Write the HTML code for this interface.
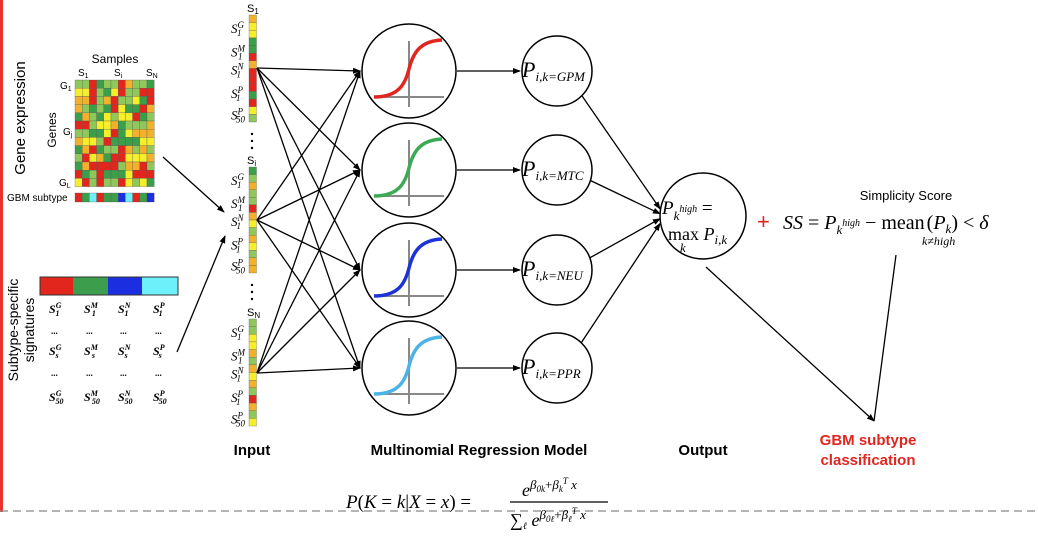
<!DOCTYPE html>
<html><head><meta charset="utf-8"><style>
html,body{margin:0;padding:0;background:#fff;width:1038px;height:540px;overflow:hidden}
svg{display:block}
.m{font-family:"Liberation Serif",serif;font-style:italic}
.s{font-family:"Liberation Sans",sans-serif}
</style></head><body>
<svg id="sv" width="1038" height="540" viewBox="0 0 1038 540" xmlns="http://www.w3.org/2000/svg">
<defs><marker id="ar" markerWidth="8" markerHeight="8" refX="7" refY="4" orient="auto" markerUnits="userSpaceOnUse"><path d="M0,1 L8,4 L0,7 z" fill="#000"/></marker></defs>
<line x1="1.5" y1="0" x2="1.5" y2="512" stroke="#e8322a" stroke-width="3"/>
<line x1="0" y1="511" x2="1038" y2="511" stroke="#888" stroke-width="1.3" stroke-dasharray="8,5"/>
<g id="hm"></g>
<g id="inp"></g>
<text class="s" font-size="15" transform="translate(25,118) rotate(-90)" text-anchor="middle">Gene expression</text>
<text class="s" font-size="12" transform="translate(56,130) rotate(-90)" text-anchor="middle">Genes</text>
<text class="s" font-size="12" x="115" y="63" text-anchor="middle">Samples</text>
<text class="s" font-size="10" x="78" y="76">S<tspan font-size="7" dy="2">1</tspan></text>
<text class="s" font-size="10" x="114" y="76">S<tspan font-size="7" dy="2">i</tspan></text>
<text class="s" font-size="10" x="146" y="76">S<tspan font-size="7" dy="2">N</tspan></text>
<text class="s" font-size="10" x="60" y="89">G<tspan font-size="7" dy="2">1</tspan></text>
<text class="s" font-size="10" x="63" y="135">G<tspan font-size="7" dy="2">j</tspan></text>
<text class="s" font-size="10" x="59" y="186">G<tspan font-size="7" dy="2">L</tspan></text>
<text class="s" font-size="10" x="7" y="201">GBM subtype</text>
<rect x="40" y="277" width="33" height="18" fill="#e2261e"/><rect x="73" y="277" width="35" height="18" fill="#3c9e4c"/><rect x="108" y="277" width="34" height="18" fill="#1b2ee0"/><rect x="142" y="277" width="36" height="18" fill="#6ef0fa"/>
<rect x="40" y="277" width="138" height="18" fill="none" stroke="#333" stroke-width="1"/>
<text class="s" font-size="14" transform="translate(18,330) rotate(-90)" text-anchor="middle">Subtype-specific</text>
<text class="s" font-size="14" transform="translate(34,330) rotate(-90)" text-anchor="middle">signatures</text>
<g id="sig" class="m" font-weight="bold" font-size="12"></g>
<line x1="163" y1="157" x2="224" y2="212" stroke="#000" stroke-width="1.3" marker-end="url(#ar)"/>
<line x1="177" y1="352" x2="225" y2="236" stroke="#000" stroke-width="1.3" marker-end="url(#ar)"/>
<g id="net"></g>
<circle cx="703" cy="216" r="43" fill="#fff" stroke="#000" stroke-width="1.5"/>
<text class="m" font-size="19" x="662" y="214">P<tspan font-size="13" dy="6">k</tspan><tspan font-size="10" dy="-8">high</tspan><tspan font-size="19" dy="2" font-style="normal"> =</tspan></text>
<text class="m" font-size="18" x="668" y="240"><tspan font-style="normal">max</tspan> P<tspan font-size="13" dy="4">i,k</tspan></text>
<text class="m" font-size="13" x="680" y="252">k</text>
<text class="s" font-size="22" x="757" y="229" fill="#e0261f">+</text>
<text class="s" font-size="13" x="906" y="200" text-anchor="middle">Simplicity Score</text>
<text class="m" font-size="20" x="783" y="229">SS <tspan font-style="normal">=</tspan> P<tspan font-size="13" dy="5">k</tspan><tspan font-size="10" dy="-8">high</tspan><tspan font-size="20" dy="3" font-style="normal"> − mean</tspan><tspan dx="2" font-style="normal">(</tspan>P<tspan font-size="13" dy="4">k</tspan><tspan dy="-4" font-style="normal">) &lt; </tspan>δ</text>
<text class="m" font-size="12" x="922" y="245">k≠high</text>
<line x1="706" y1="267" x2="874" y2="421" stroke="#000" stroke-width="1.3" marker-end="url(#ar)"/>
<line x1="896" y1="255" x2="874" y2="421" stroke="#000" stroke-width="1.3"/>
<text class="s" font-size="15" font-weight="bold" fill="#e0261f" x="868" y="445" text-anchor="middle">GBM subtype</text>
<text class="s" font-size="15" font-weight="bold" fill="#e0261f" x="868" y="465" text-anchor="middle">classification</text>
<text class="s" font-size="15" font-weight="bold" x="252" y="455" text-anchor="middle">Input</text>
<text class="s" font-size="15" font-weight="bold" x="479" y="455" text-anchor="middle">Multinomial Regression Model</text>
<text class="s" font-size="15" font-weight="bold" x="703" y="455" text-anchor="middle">Output</text>
<text class="m" font-size="19" x="346" y="508">P<tspan font-style="normal">(</tspan>K <tspan font-style="normal">=</tspan> k<tspan font-style="normal">|</tspan>X <tspan font-style="normal">=</tspan> x<tspan font-style="normal">) =</tspan></text>
<line x1="510" y1="502" x2="608" y2="502" stroke="#000" stroke-width="1.2"/>
<text class="m" font-size="18" x="522" y="496">e<tspan font-size="13" dy="-7">β<tspan font-size="9" dy="3">0k</tspan><tspan dy="-3" font-style="normal">+</tspan>β<tspan font-size="9" dy="3">k</tspan><tspan font-size="9" dy="-8">T</tspan><tspan dy="5"> x</tspan></tspan></text>
<text class="m" font-size="18" x="510" y="526"><tspan font-style="normal">∑</tspan><tspan font-size="10" dy="3">ℓ</tspan><tspan dy="-3"> e</tspan><tspan font-size="13" dy="-7">β<tspan font-size="9" dy="3">0ℓ</tspan><tspan dy="-3" font-style="normal">+</tspan>β<tspan font-size="9" dy="3">ℓ</tspan><tspan font-size="9" dy="-8">T</tspan><tspan dy="5"> x</tspan></tspan></text>
</svg>
<script>
var NS="http://www.w3.org/2000/svg";
function el(p,t,a,txt){var e=document.createElementNS(NS,t);for(var k in a)e.setAttribute(k,a[k]);if(txt!=null)e.textContent=txt;p.appendChild(e);return e;}
var C=["#e2261e","#3a9f48","#8fc85a","#f5ee2a","#f2b12a"];
var seed=7;function r(){seed=(seed*9301+49297)%233280;return seed/233280;}
var hm=document.getElementById("hm");
for(var i=0;i<13;i++)for(var j=0;j<11;j++){el(hm,"rect",{x:75+j*7.2,y:80+i*8.2,width:7.2,height:8.2,fill:C[Math.floor(r()*5)],stroke:"#555","stroke-width":0.3});}
var gb=["#e2261e","#3a9f48","#6ef0fa","#e2261e","#3a9f48","#3a9f48","#1b2ee0","#6ef0fa","#e2261e","#3a9f48","#1b2ee0"];
for(var j=0;j<11;j++)el(hm,"rect",{x:75+j*7.2,y:193,width:7.2,height:9,fill:gb[j],stroke:"#555","stroke-width":0.3});
var sg=document.getElementById("sig");var cx=[55,90,124,159],sup=["G","M","N","P"];
var rows=[[313,"1"],[334,null],[355,"s"],[376,null],[401,"50"]];
rows.forEach(function(rw){for(var c=0;c<4;c++){if(rw[1]==null){el(sg,"text",{x:cx[c]-4,y:rw[0],"font-size":9,"font-style":"normal"},"...");}else{var t=el(sg,"text",{x:cx[c]-6,y:rw[0]},"S");el(t,"tspan",{"font-size":8,dy:-5},sup[c]);el(t,"tspan",{"font-size":8,dy:8,dx:-6},rw[1]);}}});
var inp=document.getElementById("inp");
var cols=[[15,122,"1",68],[167,273,"i",220],[319,426,"N",373]];
cols.forEach(function(cl,ci){var n=14,h=(cl[1]-cl[0])/n;for(var k=0;k<n;k++)el(inp,"rect",{x:249,y:cl[0]+k*h,width:7.5,height:h,fill:C[Math.floor(r()*5)],stroke:"#555","stroke-width":0.3});
var t=el(inp,"text",{x:247,y:cl[0]-3,"font-family":"Liberation Sans","font-size":11},"S");el(t,"tspan",{"font-size":8,dy:2},cl[2]);
var labs=[["G",0.13],["M",0.35],["N",0.52],["P",0.74],["P",0.94]];
labs.forEach(function(l,li){var y=cl[0]+(cl[1]-cl[0])*l[1]+4;var t=el(inp,"text",{x:231,y:y,"font-family":"Liberation Serif","font-style":"italic","font-size":13},"S");el(t,"tspan",{"font-size":9,dy:-5},l[0]);el(t,"tspan",{"font-size":9,dy:8,dx:-7},li==4?"50":"1");});
if(ci<2){for(var d=0;d<3;d++)el(inp,"circle",{cx:252,cy:cl[1]+12+d*7,r:1.2,fill:"#000"});}
});
var net=document.getElementById("net");
var cys=[71,170,270,368],cols2=["#e0261f","#3aaa55","#1c33d8","#4cb3e6"],subs=["GPM","MTC","NEU","PPR"];
[68,220,373].forEach(function(y0){cys.forEach(function(cy){el(net,"line",{x1:257,y1:y0,x2:360,y2:cy,stroke:"#000","stroke-width":1.3,"marker-end":"url(#ar)"});});});
cys.forEach(function(cy,i){
el(net,"circle",{cx:409,cy:cy,r:47,fill:"#fff",stroke:"#000","stroke-width":1.5});
el(net,"line",{x1:409,y1:cy-30,x2:409,y2:cy+36,stroke:"#888","stroke-width":2});
el(net,"line",{x1:374,y1:cy+26,x2:444,y2:cy+26,stroke:"#888","stroke-width":2});
el(net,"path",{d:"M374,"+(cy+26)+" C398,"+(cy+26)+" 405,"+(cy+14)+" 409,"+(cy-2)+" S420,"+(cy-30)+" 442,"+(cy-31),fill:"none",stroke:cols2[i],"stroke-width":3.5});
el(net,"line",{x1:457,y1:cy,x2:520,y2:cy,stroke:"#000","stroke-width":1.3,"marker-end":"url(#ar)"});
el(net,"circle",{cx:557,cy:cy,r:35,fill:"#fff",stroke:"#000","stroke-width":1.5});
var t=el(net,"text",{x:522,y:cy+6,"font-family":"Liberation Serif","font-style":"italic","font-size":22},"P");el(t,"tspan",{"font-size":13,dy:4},"i,k="+subs[i]);
var ang=Math.atan2(216-cy,703-557);
el(net,"line",{x1:557+35*Math.cos(ang),y1:cy+35*Math.sin(ang),x2:660,y2:216+(cy-216)*0.05,stroke:"#000","stroke-width":1.3,"marker-end":"url(#ar)"});
});
</script>
</body></html>
